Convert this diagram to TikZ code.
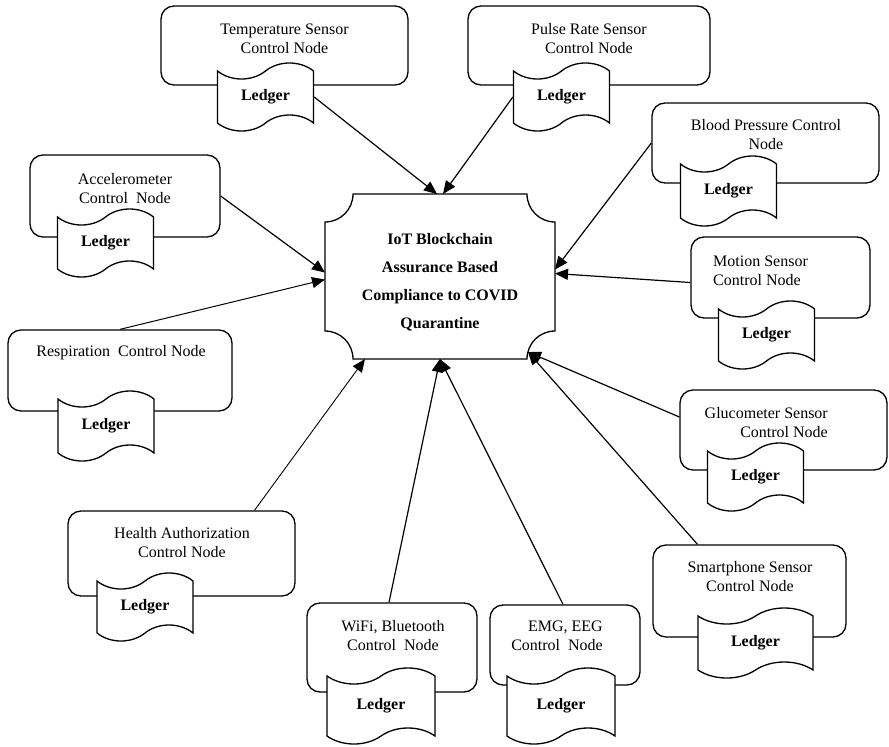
\documentclass[tikz,border=0pt]{standalone}
\usepackage{fontspec}
\setmainfont{Liberation Serif}
\usetikzlibrary{arrows.meta,shapes.symbols}
\begin{document}
\begin{tikzpicture}[x=1pt,y=-1pt,
  cbox/.style={draw, line width=1.3pt, rounded corners=13pt, fill=white, inner sep=0pt},
  lbl/.style={font=\fontsize{16}{19}\selectfont, align=center, inner sep=0pt},
  ledger/.style={tape, draw, line width=1.3pt, fill=white, minimum width=96pt,
    minimum height=68pt, tape bend height=16pt, inner sep=0pt,
    font=\fontsize{16}{19}\selectfont\bfseries},
  link/.style={line width=1.2pt, -{Triangle[length=13pt,width=11pt]}},
]
\useasboundingbox (0,0) rectangle (889,747);

% central compliance node
\node[minimum width=230pt, minimum height=165pt, inner sep=0pt, outer sep=0pt] (ctr) at (440,276.5) {};
\draw[line width=1.3pt] ([xshift=28pt]ctr.north west) -- ([xshift=-28pt]ctr.north east)
  .. controls ([xshift=-28pt,yshift=-15.5pt]ctr.north east) and ([xshift=-15.5pt,yshift=-28pt]ctr.north east) .. ([yshift=-28pt]ctr.north east)
  -- ([yshift=28pt]ctr.south east)
  .. controls ([xshift=-15.5pt,yshift=28pt]ctr.south east) and ([xshift=-28pt,yshift=15.5pt]ctr.south east) .. ([xshift=-28pt]ctr.south east)
  -- ([xshift=28pt]ctr.south west)
  .. controls ([xshift=28pt,yshift=15.5pt]ctr.south west) and ([xshift=15.5pt,yshift=28pt]ctr.south west) .. ([yshift=28pt]ctr.south west)
  -- ([yshift=-28pt]ctr.north west)
  .. controls ([xshift=15.5pt,yshift=-28pt]ctr.north west) and ([xshift=28pt,yshift=-15.5pt]ctr.north west) .. ([xshift=28pt]ctr.north west) -- cycle;
\node[lbl, font=\fontsize{16}{28}\selectfont\bfseries] (ctr-t) at (440,282)
  {IoT Blockchain\\Assurance Based\\Compliance to COVID\\Quarantine};

% control node boxes
\node[cbox, minimum width=247pt, minimum height=79pt] (temp)   at (284.5,45.5) {};
\node[cbox, minimum width=242pt, minimum height=79pt] (pulse)  at (589,45.5) {};
\node[cbox, minimum width=227pt, minimum height=80pt] (blood)  at (765.5,143) {};
\node[cbox, minimum width=190pt, minimum height=82pt] (accel)  at (125,196) {};
\node[cbox, minimum width=179pt, minimum height=81pt] (motion) at (780.5,277.5) {};
\node[cbox, minimum width=224pt, minimum height=81pt] (resp)   at (120,370.5) {};
\node[cbox, minimum width=207pt, minimum height=80pt] (gluco)  at (783.5,430) {};
\node[cbox, minimum width=227pt, minimum height=85pt] (health) at (181.5,553.5) {};
\node[cbox, minimum width=193pt, minimum height=92pt] (smart)  at (749.5,591) {};
\node[cbox, minimum width=170pt, minimum height=89pt] (wifi)   at (392,647.5) {};
\node[cbox, minimum width=150pt, minimum height=80pt] (emg)    at (565,645) {};

% box titles
\node[lbl] (temp-t)   at (284.5,39) {Temperature Sensor\\Control Node};
\node[lbl] (pulse-t)  at (589,39) {Pulse Rate Sensor\\Control Node};
\node[lbl] (blood-t)  at (766,134.5) {Blood Pressure Control\\Node};
\node[lbl] (accel-t)  at (125,188.5) {Accelerometer\\Control~ Node};
\node[lbl, align=left, anchor=west] (motion-t) at (713,271) {Motion Sensor\\Control Node};
\node[lbl] (resp-t)   at (121,353) {Respiration~ Control Node};
\node[lbl, align=right, anchor=east] (gluco-t) at (828,422.5) {Glucometer Sensor\\Control Node};
\node[lbl] (health-t) at (182,542.5) {Health Authorization\\Control Node};
\node[lbl] (smart-t)  at (750,577) {Smartphone Sensor\\Control Node};
\node[lbl] (wifi-t)   at (393,635.5) {WiFi, Bluetooth\\Control~ Node};
\node[lbl, align=right, anchor=east] (emg-t) at (603,635.5) {EMG, EEG\\Control~ Node};

% ledgers
\node[ledger] (L1)  at (265.5,97) {Ledger};
\node[ledger] (L2)  at (561.5,97) {Ledger};
\node[ledger, minimum height=70pt] (L3) at (728.5,191) {Ledger};
\node[ledger] (L4)  at (105.5,243) {Ledger};
\node[ledger] (L5)  at (766.5,335) {Ledger};
\node[ledger, minimum height=70pt] (L6) at (106,426) {Ledger};
\node[ledger] (L7)  at (755.5,477) {Ledger};
\node[ledger] (L8)  at (145,607) {Ledger};
\node[ledger, minimum width=115pt, minimum height=70pt] (L9) at (755.5,643) {Ledger};
\node[ledger, minimum width=108pt, minimum height=76pt] (L10) at (381,706) {Ledger};
\node[ledger, minimum width=108pt, minimum height=76pt] (L11) at (561,706) {Ledger};

% links to the central node
\draw[link] (L1.east) -- ([xshift=-3pt]ctr.north);
\draw[link] (L2.west) -- ([xshift=3pt]ctr.north);
\draw[link] (blood.west) -- ([yshift=7pt]ctr.east);
\draw[link] ([yshift=-5pt]motion.west) -- ([yshift=3pt]ctr.east);
\draw[link] (accel.east) -- ([yshift=4pt]ctr.west);
\draw[link, line width=1pt] (resp.north) -- ([yshift=-3pt]ctr.west);
\draw[link] ([yshift=13pt]gluco.west) -- ([shift={(-27pt,7pt)}]ctr.south east);
\draw[link] ([xshift=-52pt]smart.north) -- ([shift={(-27pt,7pt)}]ctr.south east);
\draw[link, line width=0.9pt] ([xshift=73pt]health.north) -- ([xshift=-75pt]ctr.south);
\draw[link] ([xshift=-3pt]wifi.north) -- (ctr.south);
\draw[link] ([xshift=-2pt]emg.north) -- (ctr.south);
\end{tikzpicture}
\end{document}
